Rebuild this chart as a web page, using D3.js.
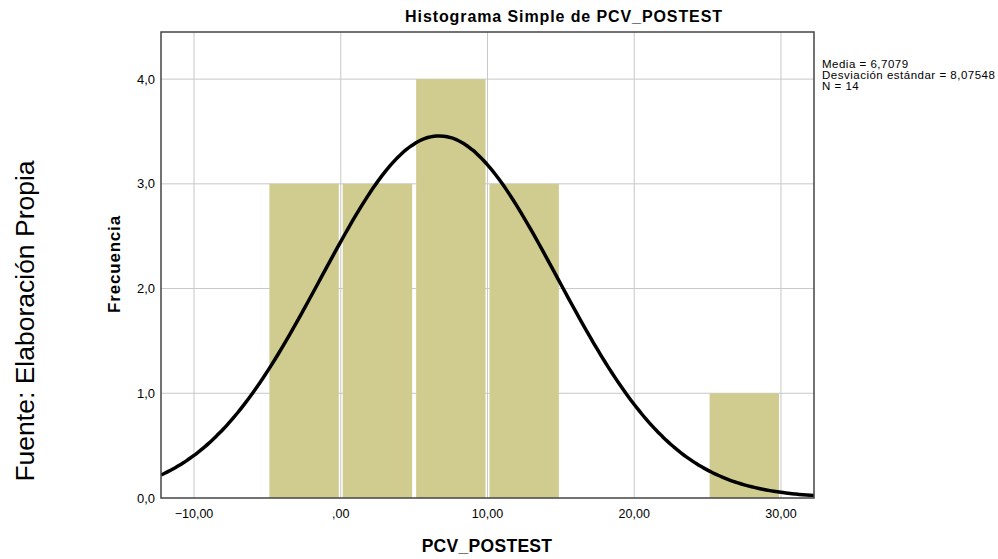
<!DOCTYPE html>
<html>
<head>
<meta charset="utf-8">
<script src="https://cdn.jsdelivr.net/npm/d3@7"></script>
<style>
  body { margin: 0; background: #fff; }
  text { font-family: "Liberation Sans", Arial, sans-serif; fill: #000; }
</style>
</head>
<body>
<script>
'use strict';

var width = 998;
var height = 559;

// data
var binStarts = [-5, 0, 5, 10, 15, 20, 25];
var binCounts = [3, 3, 4, 3, 0, 0, 1];
var binWidth = 5;
var xTicks = [-10, 0, 10, 20, 30];
var yTicks = [0, 1, 2, 3, 4];
var media = 6.7079;
var desviacion = 8.07548;
var n = 14;
var statLines = ['Media = 6,7079', 'Desviación estándar = 8,07548', 'N = 14'];

var plot = { left: 161, right: 814, top: 32, bottom: 498 };

var x = d3.scaleLinear().domain([-12.25, 32.25]).range([plot.left, plot.right]);
var y = d3.scaleLinear().domain([0, 4.45]).range([plot.bottom, plot.top]);

function fmtX (v) {
  if (v === 0) return ',00';
  return d3.format('.2f')(v).replace('.', ',');
}
function fmtY (v) {
  return d3.format('.1f')(v).replace('.', ',');
}

var svg = d3.select('body').
  append('svg').
  attr('width', width).
  attr('height', height);

// grid
svg.append('g').selectAll('line').
  data(xTicks).
  enter().
  append('line').
  attr('x1', function (d) { return x(d); }).
  attr('x2', function (d) { return x(d); }).
  attr('y1', plot.top).
  attr('y2', plot.bottom).
  attr('stroke', '#c8c8c8').
  attr('stroke-width', 1);

svg.append('g').selectAll('line').
  data(yTicks.slice(1)).
  enter().
  append('line').
  attr('x1', plot.left).
  attr('x2', plot.right).
  attr('y1', function (d) { return y(d); }).
  attr('y2', function (d) { return y(d); }).
  attr('stroke', '#c8c8c8').
  attr('stroke-width', 1);

// bars
svg.append('g').selectAll('rect').
  data(binStarts.map(function (s, i) { return { s: s, c: binCounts[i] }; }).filter(function (d) { return d.c > 0; })).
  enter().
  append('rect').
  attr('x', function (d) { return x(d.s) + 2; }).
  attr('width', function (d) { return x(d.s + binWidth) - x(d.s) - 4; }).
  attr('y', function (d) { return y(d.c); }).
  attr('height', function (d) { return y(0) - y(d.c); }).
  attr('fill', '#d0cb8f');

// normal curve
var curveX = d3.range(-12.25, 32.26, 0.25);
var k = n * binWidth / (desviacion * Math.sqrt(2 * Math.PI));
var line = d3.line().
  x(function (d) { return x(d); }).
  y(function (d) { return y(k * Math.exp(-0.5 * Math.pow((d - media) / desviacion, 2))); }).
  curve(d3.curveBasis);

svg.append('defs').append('clipPath').attr('id', 'clip').
  append('rect').
  attr('x', plot.left).attr('y', plot.top).
  attr('width', plot.right - plot.left).attr('height', plot.bottom - plot.top);

svg.append('path').
  datum(curveX).
  attr('d', line).
  attr('clip-path', 'url(#clip)').
  attr('fill', 'none').
  attr('stroke', '#000').
  attr('stroke-width', 3.5);

// frame
svg.append('rect').
  attr('x', plot.left).attr('y', plot.top).
  attr('width', plot.right - plot.left).attr('height', plot.bottom - plot.top).
  attr('fill', 'none').
  attr('stroke', '#444').
  attr('stroke-width', 1.5);

// tick labels
svg.append('g').selectAll('text').
  data(xTicks).
  enter().
  append('text').
  attr('x', function (d) { return x(d); }).
  attr('y', 518).
  attr('text-anchor', 'middle').
  style('font-size', '12.5px').
  text(fmtX);

svg.append('g').selectAll('text').
  data(yTicks).
  enter().
  append('text').
  attr('x', 155).
  attr('y', function (d) { return y(d) + 4.5; }).
  attr('text-anchor', 'end').
  style('font-size', '13px').
  text(fmtY);

// titles
svg.append('text').
  attr('x', 564).attr('y', 22).
  attr('text-anchor', 'middle').
  style('font-size', '16px').style('font-weight', 'bold').
  style('letter-spacing', '0.9px').
  text('Histograma Simple de PCV_POSTEST');

svg.append('text').
  attr('x', 487).attr('y', 552).
  attr('text-anchor', 'middle').
  style('font-size', '17.5px').style('font-weight', 'bold').
  style('letter-spacing', '0.3px').
  text('PCV_POSTEST');

svg.append('text').
  attr('transform', 'translate(120,264) rotate(-90)').
  attr('text-anchor', 'middle').
  style('font-size', '17px').style('font-weight', 'bold').
  style('letter-spacing', '0.8px').
  text('Frecuencia');

svg.append('text').
  attr('transform', 'translate(34,321) rotate(-90)').
  attr('text-anchor', 'middle').
  style('font-size', '26.5px').
  text('Fuente: Elaboración Propia');

// stats
svg.append('g').selectAll('text').
  data(statLines).
  enter().
  append('text').
  attr('x', 822).
  attr('y', function (d, i) { return 68 + i * 11; }).
  style('font-size', '11.5px').
  style('letter-spacing', '0.5px').
  text(function (d) { return d; });
</script>
</body>
</html>
